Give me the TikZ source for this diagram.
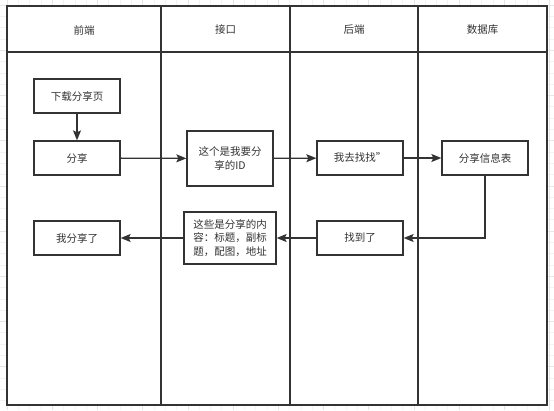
\documentclass[tikz,border=0pt]{standalone}
\usepackage{fontspec}
\setmainfont{Noto Sans CJK SC}
\usetikzlibrary{arrows.meta}
\definecolor{ln}{HTML}{333333}
\definecolor{gridminor}{HTML}{F3F3F3}
\definecolor{gridmajor}{HTML}{E6E6E6}
\begin{document}
\begin{tikzpicture}[x=1pt,y=-1pt,
  lane/.style={draw=ln,line width=1.6pt},
  stepbox/.style={draw=ln,line width=1.3pt,fill=white,minimum width=86pt,minimum height=34pt,inner sep=2pt,align=center,font=\fontsize{10.5}{13.3}\selectfont,text=ln},
  flow/.style={draw=ln,line width=1.3pt,-{Stealth[length=10pt,width=8pt,inset=2pt]}},
  hdr/.style={font=\fontsize{10.5}{12}\selectfont,text=ln}]
\useasboundingbox (0,0) rectangle (554,410);
% background grid
\foreach \i in {0,...,49} {
  \draw[gridminor,line width=0.5pt] ({7+\i*11.3},0) -- ({7+\i*11.3},410);
}
\foreach \i in {0,...,37} {
  \draw[gridminor,line width=0.5pt] (0,{5+\i*11.3}) -- (554,{5+\i*11.3});
}
\foreach \i in {0,...,12} {
  \draw[gridmajor,line width=0.5pt] ({7+\i*45.2},0) -- ({7+\i*45.2},410);
}
\foreach \i in {0,...,9} {
  \draw[gridmajor,line width=0.5pt] (0,{5+\i*45.2}) -- (554,{5+\i*45.2});
}
% table
\fill[white] (7,6) rectangle (547,405);
\draw[lane] (7,6) rectangle (547,405);
\draw[lane] (7,52) -- (547,52);
\draw[lane] (161,6) -- (161,405);
\draw[lane] (290,6) -- (290,405);
\draw[lane] (418,6) -- (418,405);
% headers
\node[hdr] (h1) at (84,30) {前端};
\node[hdr] (h2) at (225.5,30) {接口};
\node[hdr] (h3) at (354,30) {后端};
\node[hdr] (h4) at (482.5,30) {数据库};
% boxes
\node[stepbox] (dl) at (77,96) {下载分享页};
\node[stepbox] (fx) at (77,158) {分享};
\node[stepbox,minimum height=55pt] (id) at (230,158.5) {这个是我要分\\享的ID};
\node[stepbox] (zz) at (360,158) {我去找找”};
\node[stepbox] (tb) at (485,158) {分享信息表};
\node[stepbox] (zd) at (360,238) {找到了};
\node[stepbox,minimum width=92pt,minimum height=52pt] (nr) at (230,238) {这些是分享的内\\容：标题，副标\\题，配图，地址};
\node[stepbox] (wf) at (77,238) {我分享了};
% connectors
\draw[flow] (dl) -- (fx);
\draw[flow] (fx) -- (id);
\draw[flow] (id) -- (zz);
\draw[flow] (zz) -- (tb);
\draw[flow] (tb.south) |- (zd.east);
\draw[flow] (zd) -- (nr);
\draw[flow] (nr) -- (wf);
\end{tikzpicture}
\end{document}
